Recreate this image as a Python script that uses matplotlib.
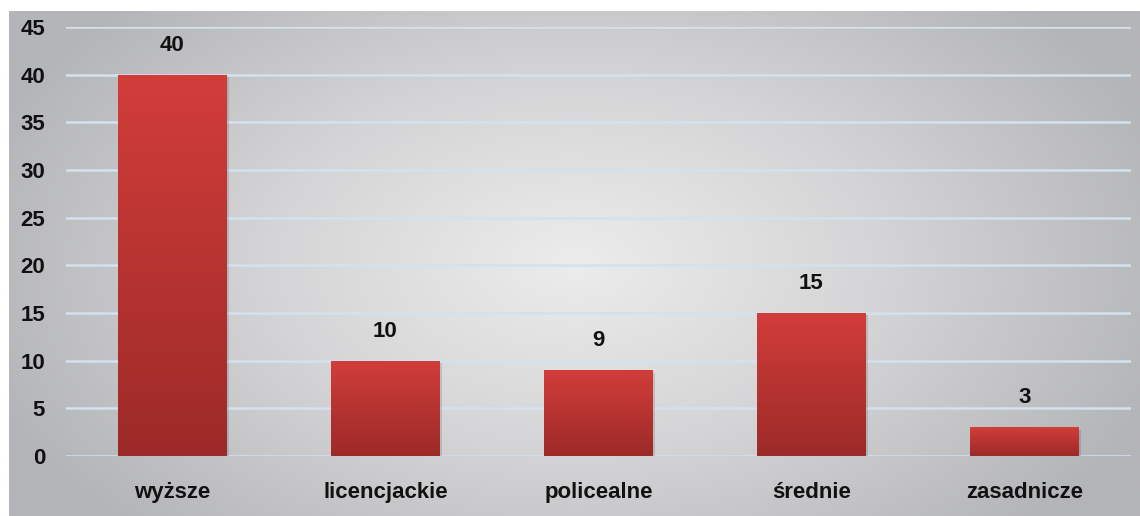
import matplotlib
matplotlib.use("Agg")
import matplotlib.pyplot as plt
import numpy as np
from matplotlib.colors import LinearSegmentedColormap

plt.rcParams["font.family"] = ["Liberation Sans", "DejaVu Sans"]

# ── Data ─────────────────────────────────────────────────────────────────────
categories = ["wyższe", "licencjackie", "policealne", "średnie", "zasadnicze"]
values = [40, 10, 9, 15, 3]
y_ticks = [0, 5, 10, 15, 20, 25, 30, 35, 40, 45]

W, H = 1140, 516
fig = plt.figure(figsize=(W / 100, H / 100), dpi=100)
fig.patch.set_facecolor("white")

# ── Radial gradient panel ────────────────────────────────────────────────────
bg = fig.add_axes([9 / W, 0, 1 - 9 / W, 1 - 11 / H])
bg.set_axis_off()
yy, xx = np.mgrid[0:1:300j, 0:1:600j]
r = np.sqrt(((xx - 0.5) / 0.55) ** 2 + ((yy - 0.5) / 0.75) ** 2)
r = np.clip(r, 0, 1)
bg_cmap = LinearSegmentedColormap.from_list("bg", ["#ececec", "#d4d4d6", "#b4b5b8"])
bg.imshow(r, cmap=bg_cmap, aspect="auto", extent=[0, 1, 0, 1], vmin=0, vmax=1)
bg.set_xlim(0, 1)
bg.set_ylim(0, 1)

# ── Plot axes ────────────────────────────────────────────────────────────────
x0, x1 = 66, 1131
y_top, y_zero = 27, 456
ax = fig.add_axes([x0 / W, (H - y_zero) / H, (x1 - x0) / W, (y_zero - y_top) / H])
ax.patch.set_alpha(0)

for t in y_ticks:
    ax.axhline(t, color="#d3e1f1", linewidth=1.8, zorder=1)

xs = np.arange(len(categories))
bar_cmap = LinearSegmentedColormap.from_list("bar", ["#9c2a28", "#d23d3a"])
grad = np.linspace(0, 1, 256).reshape(-1, 1)
bars = ax.bar(xs, values, width=0.51, color="#c03532", zorder=2)
for b, v in zip(bars, values):
    bx, bw = b.get_x(), b.get_width()
    # soft shadow
    ax.bar(bx + bw / 2 + 0.01, v, width=bw, bottom=-0.25, color="black",
           alpha=0.12, zorder=1.5)
    im = ax.imshow(grad, cmap=bar_cmap, aspect="auto", origin="lower",
                   extent=[bx, bx + bw, 0, v], zorder=3)
    im.set_clip_path(b)
    ax.text(b.get_x() + bw / 2, v + 2.0, str(v), ha="center", va="bottom",
            fontsize=16, fontweight="bold", color="#111111", zorder=4)

ax.set_xlim(-0.5, len(categories) - 0.5)
ax.set_ylim(0, 45)
ax.set_yticks(y_ticks)
ax.set_yticklabels([str(t) for t in y_ticks], fontsize=16, fontweight="bold", color="#111111")
ax.set_xticks(xs)
ax.set_xticklabels(categories, fontsize=16, fontweight="bold", color="#111111")
ax.tick_params(axis="y", length=0, pad=15)
ax.tick_params(axis="x", length=0, pad=19)
for s in ax.spines.values():
    s.set_visible(False)

plt.savefig("out.png", dpi=100, facecolor="white")
